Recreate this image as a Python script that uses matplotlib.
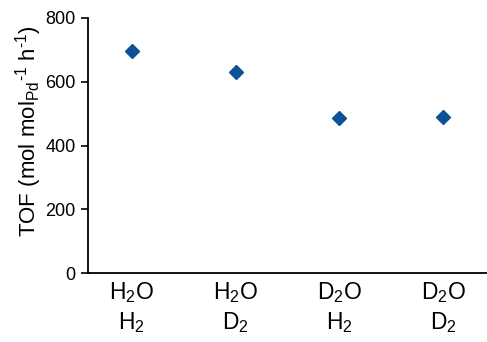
import numpy as np
import matplotlib
matplotlib.use("Agg")
import matplotlib.pyplot as plt

plt.rcParams['font.family'] = ['Liberation Sans', 'DejaVu Sans']
plt.rcParams['mathtext.fontset'] = 'custom'
plt.rcParams['mathtext.rm'] = 'Liberation Sans'
plt.rcParams['mathtext.it'] = 'Liberation Sans'

# ---------- DATA ----------
categories = ['H$_2$O\nH$_2$', 'H$_2$O\nD$_2$', 'D$_2$O\nH$_2$', 'D$_2$O\nD$_2$']
tof = [697, 630, 486, 490]
yticks = [0, 200, 400, 600, 800]
# --------------------------

fig = plt.figure(figsize=(4.87, 3.42), dpi=100)
ax = fig.add_axes([88 / 487, 1 - 273 / 342, 1 - 88 / 487, 255 / 342])

x = np.arange(len(categories))
ax.plot(x, tof, linestyle='none', marker='D', markersize=7.5, color='#0b5394')

ax.set_xlim(-0.42, 3.42)
ax.set_ylim(0, 800)
ax.set_yticks(yticks)
ax.set_xticks(x)
ax.set_xticklabels(categories, fontsize=16.5, linespacing=1.3)
ax.tick_params(axis='y', labelsize=13, direction='out', length=5, width=1.2, pad=4)
ax.tick_params(axis='x', length=0, pad=5)

for s in ['top', 'right']:
    ax.spines[s].set_visible(False)
for s in ['left', 'bottom']:
    ax.spines[s].set_linewidth(1.3)

ax.set_ylabel('TOF (mol mol$_{\\mathregular{Pd}}$$^{\\mathregular{\u2010}\\mathregular{1}}$ h$^{\\mathregular{\u2010}\\mathregular{1}}$)',
              fontsize=16)
ax.yaxis.set_label_coords(-0.11, 0.555)

plt.savefig('out.png', dpi=100)
plt.close(fig)
